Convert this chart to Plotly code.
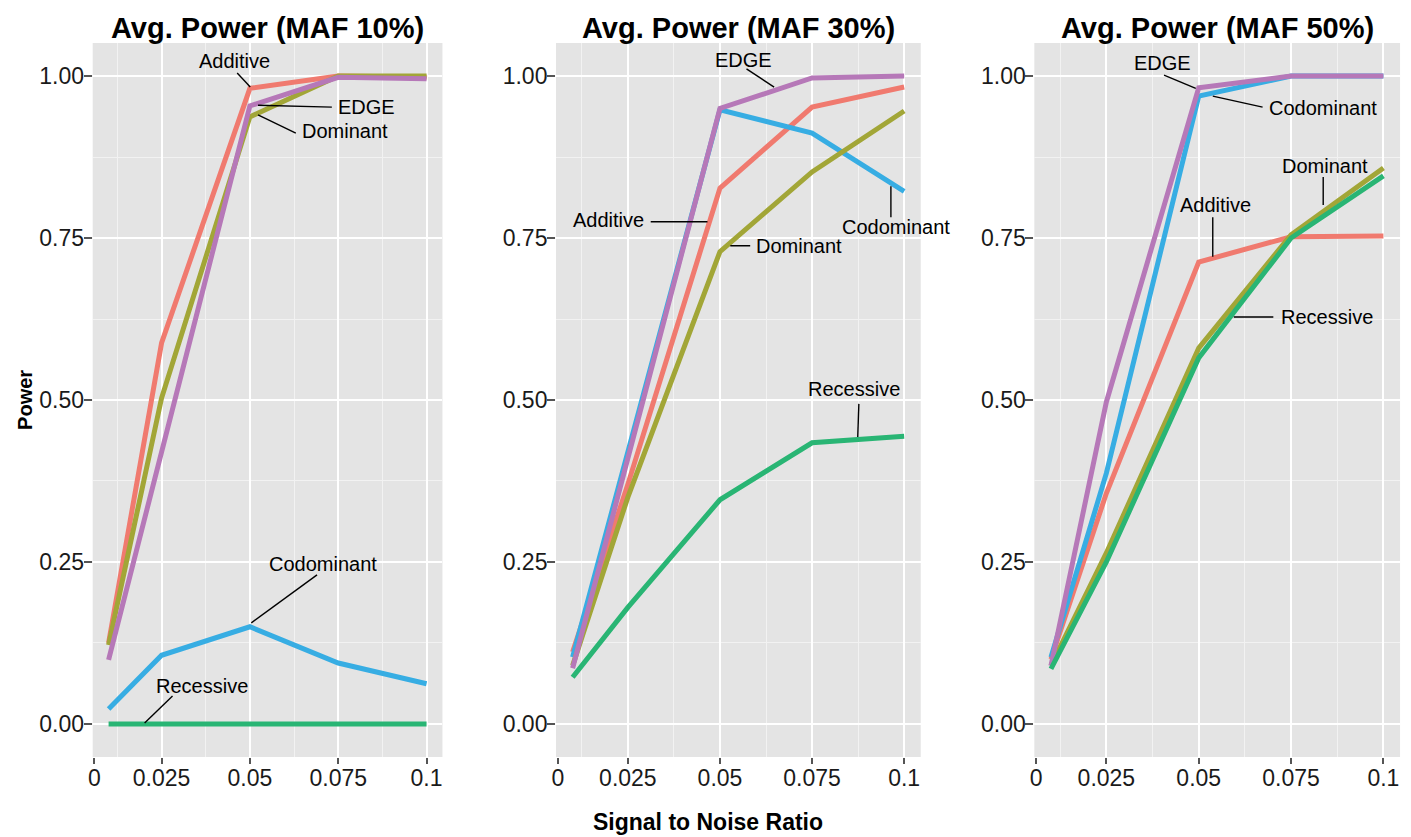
import plotly.graph_objects as go

# ---------------- data ----------------
snr = [0.01, 0.025, 0.05, 0.075, 0.1]
series_names = ["Additive", "Codominant", "Dominant", "EDGE", "Recessive"]

panel_titles = ["Avg. Power (MAF 10%)", "Avg. Power (MAF 30%)", "Avg. Power (MAF 50%)"]

maf10_additive = [0.125, 0.588, 0.981, 1.000, 0.998]
maf10_codominant = [0.023, 0.106, 0.150, 0.094, 0.062]
maf10_dominant = [0.122, 0.503, 0.937, 1.000, 1.000]
maf10_edge = [0.099, 0.420, 0.954, 0.998, 0.996]
maf10_recessive = [0.000, 0.000, 0.000, 0.000, 0.000]

maf30_additive = [0.111, 0.370, 0.827, 0.952, 0.983]
maf30_codominant = [0.103, 0.420, 0.948, 0.912, 0.822]
maf30_dominant = [0.090, 0.350, 0.729, 0.852, 0.946]
maf30_edge = [0.086, 0.410, 0.950, 0.997, 1.000]
maf30_recessive = [0.072, 0.180, 0.346, 0.434, 0.444]

maf50_additive = [0.100, 0.356, 0.713, 0.752, 0.753]
maf50_codominant = [0.103, 0.387, 0.969, 1.000, 1.000]
maf50_dominant = [0.090, 0.264, 0.580, 0.755, 0.858]
maf50_edge = [0.090, 0.497, 0.982, 1.000, 1.000]
maf50_recessive = [0.085, 0.250, 0.565, 0.750, 0.846]

y_tickvals = [0.0, 0.25, 0.5, 0.75, 1.0]
y_ticktext = ["0.00", "0.25", "0.50", "0.75", "1.00"]
x_tickvals = [0.025, 0.05, 0.075, 0.1]
x_ticktext = ["0.025", "0.05", "0.075", "0.1"]
x_zero_tick = [0.006]
x_zero_text = ["0"]
x_minor = [0.0125, 0.0375, 0.0625, 0.0875]
y_minor = [0.125, 0.375, 0.625, 0.875]

panels = [
    [maf10_additive, maf10_codominant, maf10_dominant, maf10_edge, maf10_recessive],
    [maf30_additive, maf30_codominant, maf30_dominant, maf30_edge, maf30_recessive],
    [maf50_additive, maf50_codominant, maf50_dominant, maf50_edge, maf50_recessive],
]

# label annotations: (text, x, y, xanchor, leader x0, y0, x1, y1)
labels = [
    [
        ("Additive", 0.0456, 1.023, "center", 0.0464, 1.0046, 0.0501, 0.983),
        ("EDGE", 0.0743, 0.952, "left", 0.0523, 0.955, 0.0732, 0.952),
        ("Dominant", 0.0642, 0.915, "left", 0.0523, 0.940, 0.0630, 0.912),
        ("Codominant", 0.0707, 0.247, "center", 0.0690, 0.230, 0.0504, 0.156),
        ("Recessive", 0.0365, 0.0586, "center", 0.0281, 0.0432, 0.0202, 0.0015),
    ],
    [
        ("EDGE", 0.0564, 1.025, "center", 0.0572, 1.011, 0.0647, 0.983),
        ("Additive", 0.0298, 0.778, "right", 0.0312, 0.775, 0.0466, 0.775),
        ("Dominant", 0.0593, 0.738, "left", 0.0528, 0.738, 0.0582, 0.738),
        ("Codominant", 0.0977, 0.767, "center", 0.0964, 0.830, 0.0964, 0.782),
        ("Recessive", 0.0864, 0.517, "center", 0.0877, 0.494, 0.0874, 0.443),
    ],
    [
        ("EDGE", 0.0403, 1.020, "center", 0.0406, 1.0015, 0.0492, 0.981),
        ("Codominant", 0.0686, 0.951, "left", 0.0538, 0.969, 0.0673, 0.952),
        ("Dominant", 0.0843, 0.861, "center", 0.0837, 0.844, 0.0837, 0.801),
        ("Additive", 0.0546, 0.801, "center", 0.0538, 0.782, 0.0538, 0.721),
        ("Recessive", 0.0716, 0.628, "left", 0.0595, 0.628, 0.0702, 0.628),
    ],
]

# ---------------- style ----------------
W, H = 1411, 837
colors = {
    "Additive": "#F07A6F",
    "Codominant": "#37ADE3",
    "Dominant": "#A2A637",
    "EDGE": "#B678B8",
    "Recessive": "#29B574",
}
FONT = "Liberation Sans, Arial, Helvetica, sans-serif"
x_px = [(88, 439), (553, 919), (1033, 1400)]
y_px = (43, 757)
x_range = [0.0055, 0.1045]
y_range = [-0.051, 1.051]
TICKFONT = dict(size=23, family=FONT, color="#1a1a1a")

fig = go.Figure()
layout = dict(
    width=W, height=H,
    margin=dict(l=0, r=0, t=0, b=0),
    paper_bgcolor="white",
    plot_bgcolor="#E4E4E4",
    showlegend=False,
    font=dict(family=FONT, color="#1a1a1a"),
)

annotations = []
shapes = []
for p in range(3):
    xa = "x" if p == 0 else f"x{p + 1}"
    ya = "y" if p == 0 else f"y{p + 1}"
    for name, vals in zip(series_names, panels[p]):
        fig.add_trace(go.Scatter(
            x=snr, y=vals, mode="lines", name=name,
            line=dict(color=colors[name], width=5),
            xaxis=xa, yaxis=ya, showlegend=False,
        ))
    dom_x = [x_px[p][0] / W, x_px[p][1] / W]
    dom_y = [1 - y_px[1] / H, 1 - y_px[0] / H]
    xkey = "xaxis" if p == 0 else f"xaxis{p + 1}"
    ykey = "yaxis" if p == 0 else f"yaxis{p + 1}"
    layout[xkey] = dict(
        domain=dom_x, anchor=ya, range=x_range,
        tickmode="array", tickvals=x_tickvals, ticktext=x_ticktext,
        ticks="outside", ticklen=6, tickwidth=1.5, tickcolor="#555555",
        tickfont=TICKFONT,
        ticklabelstandoff=-6,
        showgrid=True, gridcolor="white", gridwidth=2,
        minor=dict(tickmode="array", tickvals=x_minor, showgrid=True,
                   gridcolor="#F2F2F2", gridwidth=1, ticks=""),
        zeroline=False, showline=False, fixedrange=True,
    )
    layout[ykey] = dict(
        domain=dom_y, anchor=xa, range=y_range,
        tickmode="array", tickvals=y_tickvals, ticktext=y_ticktext,
        ticks="outside", ticklen=8, tickwidth=1.5, tickcolor="#555555",
        tickfont=TICKFONT,
        ticklabelstandoff=-5,
        showgrid=True, gridcolor="white", gridwidth=2,
        minor=dict(tickmode="array", tickvals=y_minor, showgrid=True,
                   gridcolor="#F2F2F2", gridwidth=1, ticks=""),
        zeroline=False, showline=False, fixedrange=True,
    )
    # overlay axis for the "0" tick label (no gridline there)
    ok = f"xaxis{p + 4}"
    oa = f"x{p + 4}"
    layout[ok] = dict(
        overlaying=xa, anchor=ya, side="bottom", range=x_range,
        tickmode="array", tickvals=x_zero_tick, ticktext=x_zero_text,
        ticks="outside", ticklen=6, tickwidth=1.5, tickcolor="#555555",
        tickfont=TICKFONT,
        ticklabelstandoff=-6,
        showgrid=False, zeroline=False, showline=False, fixedrange=True,
    )
    fig.add_trace(go.Scatter(x=[None], y=[None], xaxis=oa, yaxis=ya,
                             showlegend=False, hoverinfo="skip"))
    # panel title
    annotations.append(dict(
        text=f"<b>{panel_titles[p]}</b>", xref="paper", yref="paper",
        x=(x_px[p][0] + x_px[p][1]) / 2 / W, y=1 - 28 / H,
        xanchor="center", yanchor="middle", showarrow=False,
        font=dict(size=29, family=FONT, color="black"),
    ))
    for (txt, tx, ty, anc, lx0, ly0, lx1, ly1) in labels[p]:
        annotations.append(dict(
            text=txt, xref=xa, yref=ya, x=tx, y=ty, xanchor=anc, yanchor="middle",
            showarrow=False, font=dict(size=20, family=FONT, color="black"),
        ))
        shapes.append(dict(
            type="line", xref=xa, yref=ya, x0=lx0, y0=ly0, x1=lx1, y1=ly1,
            line=dict(color="black", width=1.4), layer="above",
        ))

annotations.append(dict(
    text="<b>Power</b>", xref="paper", yref="paper", x=20 / W, y=1 - 400 / H,
    xanchor="center", yanchor="middle", textangle=-90, showarrow=False,
    font=dict(size=20, family=FONT, color="black"),
))
annotations.append(dict(
    text="<b>Signal to Noise Ratio</b>", xref="paper", yref="paper",
    x=706 / W, y=1 - 822 / H, xanchor="center", yanchor="middle", showarrow=False,
    font=dict(size=23, family=FONT, color="black"),
))

layout["annotations"] = annotations
layout["shapes"] = shapes
fig.update_layout(**layout)
fig.write_html("out.html")
